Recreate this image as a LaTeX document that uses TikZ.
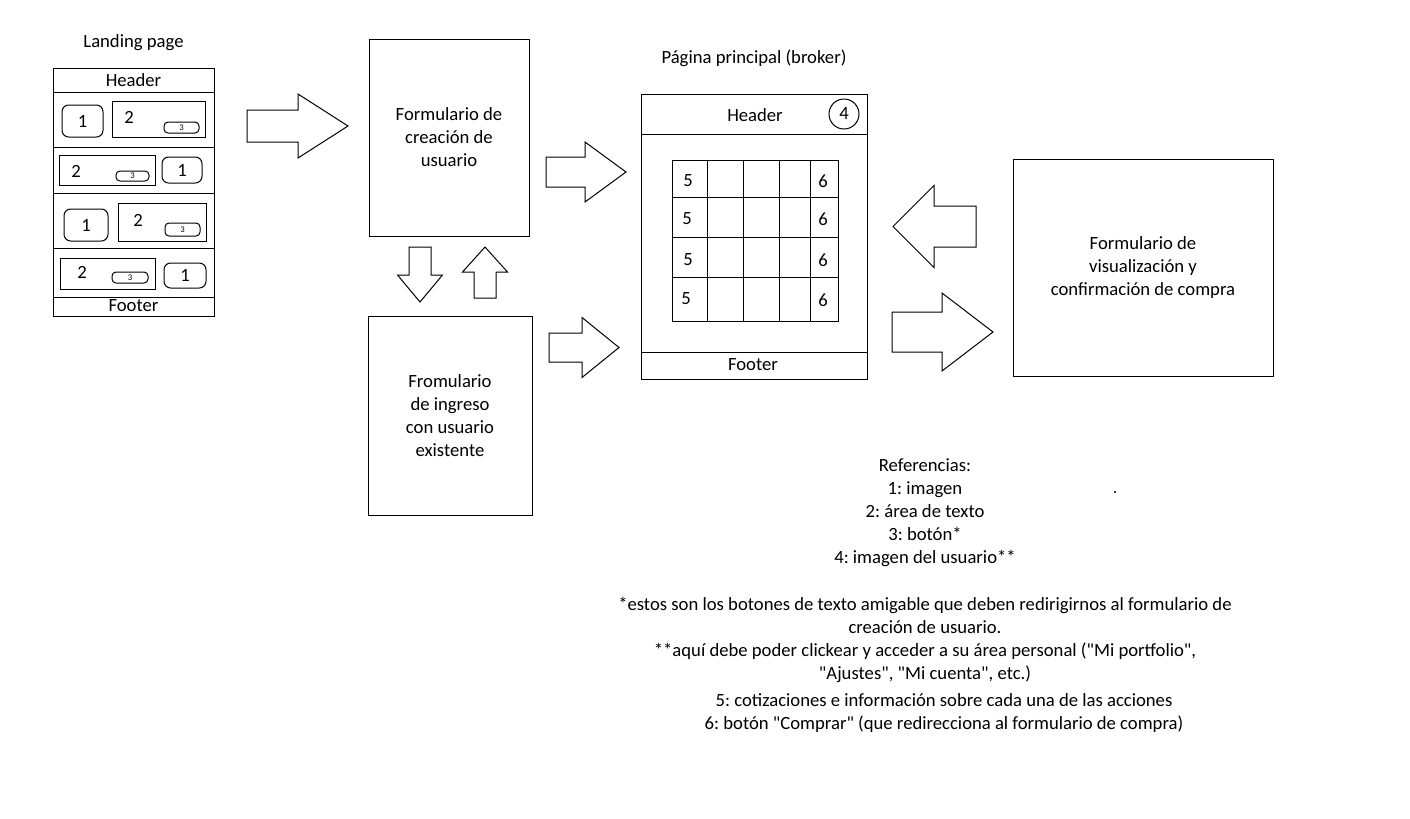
\documentclass[tikz,border=0pt]{standalone}
\usepackage{fontspec}
\setmainfont{Carlito}[Ligatures=TeXOff]
\usepackage{tikz}
\usetikzlibrary{positioning}

\newcommand{\pxu}{0.75pt}
\frenchspacing

\begin{document}
\begin{tikzpicture}[x=0.75pt,y=-0.75pt,line width=0.75pt,
  every node/.style={font=\fontsize{14}{17.25}\selectfont,inner sep=0pt},
  frame/.style={draw,align=center},
  imgbox/.style={draw,rounded corners=5pt},
  btnbox/.style={draw,rounded corners=3pt,font=\fontsize{6.5}{7}\selectfont},
  pics/blockarrow/.style args={#1/#2/#3/#4}{code={
    \draw (0,-#2) -- (#1-#4,-#2) -- (#1-#4,-#3) -- (#1,0) -- (#1-#4,#3) -- (#1-#4,#2) -- (0,#2) -- cycle;}}]
\fill[white] (0,0) rectangle (1410,818);
\useasboundingbox (0,0) rectangle (1410,818);

% landing page
\node (landingtitle) at (133.5,43) {Landing page};
\node[frame,minimum width=161*\pxu,minimum height=248*\pxu] (landing) at (133.5,192) {};
\draw (53,92) -- (214,92);
\draw (53,147) -- (214,147);
\draw (53,193) -- (214,193);
\draw (53,248) -- (214,248);
\draw (53,297) -- (214,297);
\node (lheader) at (133.5,80) {Header};
\node (lfooter) at (133.5,306) {Footer};
\node[imgbox,minimum width=41*\pxu,minimum height=32*\pxu] (img1) at (82.5,121) {1};
\node[draw,minimum width=93*\pxu,minimum height=36*\pxu] (txt1) at (158.5,119) {};
\node (num1) at (129,117) {2};
\node[btnbox,minimum width=35*\pxu,minimum height=11*\pxu] (btn1) at (181.5,127.5) {3};
\node[draw,minimum width=96*\pxu,minimum height=30*\pxu] (txt2) at (107,170) {};
\node (num2) at (76,171) {2};
\node[btnbox,minimum width=33*\pxu,minimum height=10*\pxu] (btn2) at (132.5,176) {3};
\node[imgbox,minimum width=40*\pxu,minimum height=26*\pxu] (img2) at (182,170) {1};
\node[imgbox,minimum width=44*\pxu,minimum height=32*\pxu] (img3) at (86,225) {1};
\node[draw,minimum width=88*\pxu,minimum height=38*\pxu] (txt3) at (162,222) {};
\node (num3) at (138,220) {2};
\node[btnbox,minimum width=35*\pxu,minimum height=13*\pxu] (btn3) at (182.5,229.5) {3};
\node[draw,minimum width=95*\pxu,minimum height=31*\pxu] (txt4) at (107.5,273.5) {};
\node (num4) at (82,272) {2};
\node[btnbox,minimum width=36*\pxu,minimum height=11*\pxu] (btn4) at (130,277.5) {3};
\node[imgbox,minimum width=42*\pxu,minimum height=25*\pxu] (img4) at (185,275.5) {1};

% formularios
\node[frame,minimum width=160*\pxu,minimum height=197*\pxu] (crea) at (449,137.5) {Formulario de\\creación de\\usuario};
\node[frame,minimum width=164*\pxu,minimum height=199*\pxu] (ingreso) at (450,415.5) {Fromulario\\de ingreso\\con usuario\\existente};
\node[frame,minimum width=260*\pxu,minimum height=217*\pxu] (compra) at (1143,267.5) {Formulario de\\visualización y\\confirmación de compra};

% pagina principal
\node (brokertitle) at (754,58) {Página principal (broker)};
\node[frame,minimum width=226*\pxu,minimum height=285*\pxu] (broker) at (754,236.5) {};
\draw (641,134) -- (867,134);
\draw (641,352) -- (867,352);
\node (bheader) at (755,115) {Header};
\node[draw,circle,minimum size=30*\pxu] (avatar) at (844,114) {4};
\node (bfooter) at (753,365) {Footer};
\draw (672,160) rectangle (838,321);
\draw (707,160) -- (707,321);
\draw (743,160) -- (743,321);
\draw (779,160) -- (779,321);
\draw (810,160) -- (810,321);
\draw (672,197) -- (838,197);
\draw (672,237) -- (838,237);
\draw (672,277) -- (838,277);
\node (acc1) at (688,181) {5};
\node (acc2) at (687,219) {5};
\node (acc3) at (688,260) {5};
\node (acc4) at (686,299) {5};
\node (buy1) at (823,181) {6};
\node (buy2) at (823,219) {6};
\node (buy3) at (823,260) {6};
\node (buy4) at (823,300) {6};

% flechas
\pic at (247,126) {blockarrow=101/16/32/50};
\pic[rotate=-90] at (420,247) {blockarrow=55/11/22.5/27};
\pic[rotate=90] at (485,298) {blockarrow=51/11/22.5/25};
\pic at (546,172) {blockarrow=80/15/30/41};
\pic at (549,347.5) {blockarrow=70/14.5/30/37};
\pic[rotate=180] at (976,226.5) {blockarrow=83/20.5/41/41};
\pic at (892,332) {blockarrow=101/20/39/51};

% referencias
\node[align=center] (refs) at (925,513) {Referencias:\\1: imagen\\2: área de texto\\3: botón*\\4: imagen del usuario**};
\fill (1115,492) circle (1.2);
\node[align=center] (notes) at (925,639.5) {*estos son los botones de texto amigable que deben redirigirnos al formulario de\\creación de usuario.\\**aquí debe poder clickear y acceder a su área personal ("Mi portfolio",\\"Ajustes", "Mi cuenta", etc.)};
\node[align=center] (acciones) at (944,713.5) {5: cotizaciones e información sobre cada una de las acciones\\6: botón "Comprar" (que redirecciona al formulario de compra)};
\end{tikzpicture}
\end{document}
